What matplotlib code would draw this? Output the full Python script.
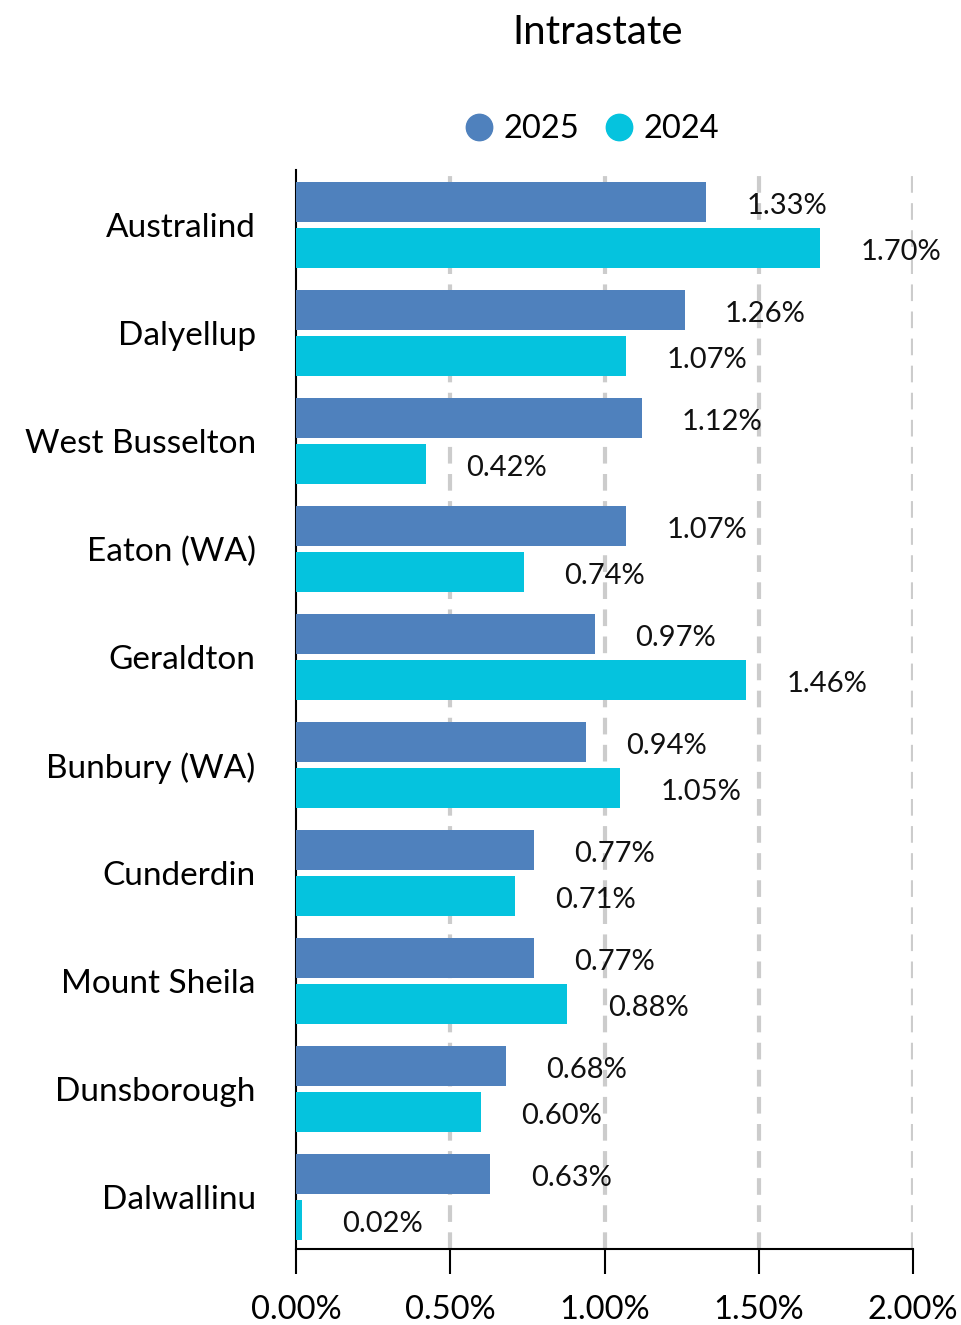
import matplotlib
matplotlib.use('Agg')

import matplotlib.pyplot as plt
from matplotlib.lines import Line2D

plt.rcParams['font.family'] = ['Lato', 'DejaVu Sans']

categories = ["Australind", "Dalyellup", "West Busselton", "Eaton (WA)", "Geraldton",
              "Bunbury (WA)", "Cunderdin", "Mount Sheila", "Dunsborough", "Dalwallinu"]
values_2025 = [1.33, 1.26, 1.12, 1.07, 0.97, 0.94, 0.77, 0.77, 0.68, 0.63]
values_2024 = [1.70, 1.07, 0.42, 0.74, 1.46, 1.05, 0.71, 0.88, 0.60, 0.02]
x_ticks = [0.0, 0.5, 1.0, 1.5, 2.0]

color_2025 = "#4F81BD"
color_2024 = "#05C3DE"

W, H = 961, 1325
fig = plt.figure(figsize=(W / 100, H / 100), dpi=100)
ax = fig.add_axes([296 / W, 1 - 1249 / H, (913 - 296) / W, (1249 - 170) / H])

bar_h = 40 / 108
off = 23 / 108
pos = list(range(len(categories)))

ax.barh([p - off for p in pos], values_2025, height=bar_h, color=color_2025, zorder=3)
ax.barh([p + off for p in pos], values_2024, height=bar_h, color=color_2024, zorder=3)

# value labels to the right of each bar
for p, v in zip(pos, values_2025):
    ax.annotate(f"{v:.2f}%", (v, p - off), xytext=(29, -2.5), textcoords="offset points",
                ha="left", va="center", fontsize=21, color="#111111", zorder=4)
for p, v in zip(pos, values_2024):
    ax.annotate(f"{v:.2f}%", (v, p + off), xytext=(29, -2.5), textcoords="offset points",
                ha="left", va="center", fontsize=21, color="#111111", zorder=4)

ax.set_xlim(0, 2.0)
ax.set_ylim(9.48, -0.51)
ax.set_xticks(x_ticks)
ax.set_xticklabels([f"{t:.2f}%" for t in x_ticks], fontsize=23.5)
ax.set_yticks(pos)
ax.set_yticklabels(categories, fontsize=24)
ax.tick_params(axis="y", length=0, pad=29)
ax.tick_params(axis="x", length=18, width=1.5, pad=15, color="black")

for t in x_ticks[1:]:
    ax.axvline(t, color="#cccccc", lw=3, ls=(0, (4, 2.5)), zorder=1)

for s in ["top", "right"]:
    ax.spines[s].set_visible(False)
ax.spines["left"].set_linewidth(1.5)
ax.spines["bottom"].set_linewidth(1.5)

fig.text(598 / W, 1 - 32 / H, "Intrastate", ha="center", va="center", fontsize=29)

handles = [Line2D([], [], marker="o", ls="none", markersize=19, color=color_2025),
           Line2D([], [], marker="o", ls="none", markersize=19, color=color_2024)]
fig.legend(handles, ["2025", "2024"], loc="center", bbox_to_anchor=(591 / W, 1 - 129 / H),
           ncol=2, frameon=False, fontsize=23.5, handletextpad=0.25, columnspacing=0.7,
           handlelength=1.0)

fig.savefig("out.png", dpi=100)
plt.close()
